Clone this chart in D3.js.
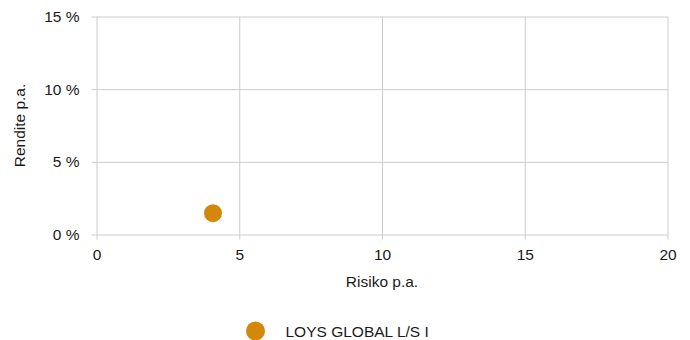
<!DOCTYPE html>
<html>
<head>
<meta charset="utf-8">
<script src="https://cdn.jsdelivr.net/npm/d3@7"></script>
<style>
  body { margin: 0; background: #fff; }
  svg text { font-family: "Liberation Sans", Arial, sans-serif; fill: #1a1a1a; }
</style>
</head>
<body>
<div id="chart"></div>
<script>
const seriesNames = ['LOYS GLOBAL L/S I']
const riskValues = [4.08]
const returnValues = [1.47]
const seriesColors = ['#d4880a']
const xTicks = [0, 5, 10, 15, 20]
const yTicks = [0, 5, 10, 15]

const width = 690, height = 340
const margin = {left: 96.5, top: 16.5, right: 22.5, bottom: 105.5}
const fontSize = 15.5

const svg = d3.select('#chart').append('svg')
  .attr('width', width)
  .attr('height', height)

const xScale = d3.scaleLinear()
  .domain([0, 20])
  .range([margin.left, width - margin.right])

const yScale = d3.scaleLinear()
  .domain([0, 15])
  .range([height - margin.bottom, margin.top])

const data = seriesNames.map((name, i) => ({name, risk: riskValues[i], ret: returnValues[i], color: seriesColors[i]}))

// grid + axes
const xAxis = svg.append('g')
  .attr('transform', `translate(0,${yScale(0)})`)
  .call(d3.axisBottom(xScale).tickValues(xTicks).tickSize(-(yScale(0) - yScale(15))).tickPadding(14))
xAxis.select('.domain').remove()
xAxis.selectAll('line').attr('stroke', '#cccccc').attr('y1', 5)
xAxis.selectAll('text').attr('font-size', fontSize)

const yAxis = svg.append('g')
  .attr('transform', `translate(${xScale(0)},0)`)
  .call(d3.axisLeft(yScale).tickValues(yTicks).tickSize(-(xScale(20) - xScale(0))).tickPadding(17).tickFormat(d => d + ' %'))
yAxis.select('.domain').remove()
yAxis.selectAll('line').attr('stroke', '#cccccc').attr('x1', -5)
yAxis.selectAll('text').attr('font-size', fontSize)

// axis titles
svg.append('text')
  .attr('x', (xScale(0) + xScale(20)) / 2)
  .attr('y', 287)
  .attr('text-anchor', 'middle')
  .attr('font-size', fontSize)
  .text('Risiko p.a.')

svg.append('text')
  .attr('transform', `translate(25,${(yScale(0) + yScale(15)) / 2}) rotate(-90)`)
  .attr('text-anchor', 'middle')
  .attr('font-size', fontSize)
  .text('Rendite p.a.')

// points
svg.append('g').selectAll('circle')
  .data(data)
  .join('circle')
  .attr('cx', d => xScale(d.risk))
  .attr('cy', d => yScale(d.ret))
  .attr('r', 9)
  .attr('fill', d => d.color)

// legend
const legend = svg.append('g').selectAll('g')
  .data(data)
  .join('g')
  .attr('transform', (d, i) => `translate(255.5,${331 + i * 20})`)
legend.append('circle').attr('r', 9.5).attr('fill', d => d.color)
legend.append('text')
  .attr('x', 30)
  .attr('y', 5.5)
  .attr('font-size', fontSize)
  .text(d => d.name)
</script>
</body>
</html>
